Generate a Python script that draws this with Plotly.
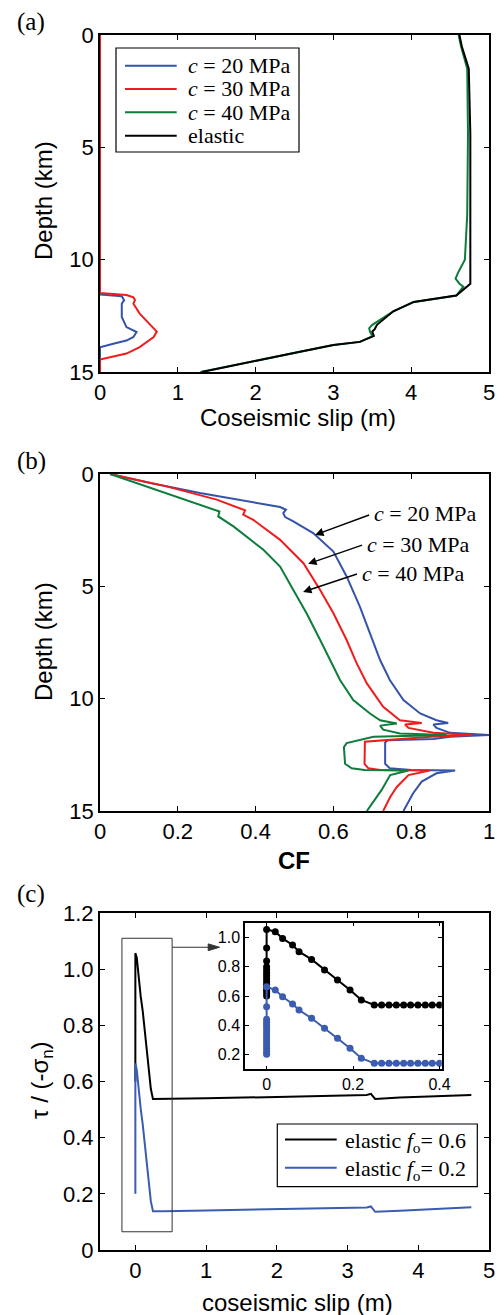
import plotly.graph_objects as go

# ---------------- Panel (a): coseismic slip vs depth ----------------
a_depth_c20 = [0, 11.55, 11.63, 11.8, 11.96, 12.55, 13.0, 13.22, 13.44, 13.6, 13.74, 13.9, 15]
a_slip_c20 = [0, 0, 0.28, 0.31, 0.28, 0.28, 0.34, 0.47, 0.43, 0.34, 0.17, 0, 0]

a_depth_c30 = [0, 11.48, 11.57, 11.68, 11.8, 11.96, 12.4, 12.85, 13.2, 13.44, 13.89, 14.18, 14.45, 15]
a_slip_c30 = [0, 0, 0.34, 0.43, 0.45, 0.43, 0.51, 0.64, 0.73, 0.69, 0.51, 0.34, 0, 0]

a_depth_c40 = [0, 0.5, 1.5, 4.4, 8.0, 10.0, 10.6, 10.84, 11.07, 11.2, 11.6, 11.88, 12.3, 12.9,
               13.05, 13.2, 13.4, 13.66, 13.8, 14.1, 14.4, 14.7, 15]
a_slip_c40 = [4.61, 4.64, 4.72, 4.73, 4.72, 4.69, 4.6, 4.57, 4.62, 4.67, 4.58, 4.04, 3.77, 3.5,
              3.46, 3.47, 3.5, 3.34, 3.0, 2.57, 2.14, 1.71, 1.29]

a_depth_el = [0, 0.5, 1.5, 4.4, 11.07, 11.6, 11.88, 12.3, 12.9, 13.1, 13.2, 13.4, 13.66, 13.8,
              14.1, 14.4, 14.7, 15]
a_slip_el = [4.62, 4.65, 4.74, 4.76, 4.76, 4.58, 4.03, 3.77, 3.56, 3.53, 3.50, 3.52, 3.34, 3.0,
             2.57, 2.14, 1.71, 1.31]

a_names = ["<i>c</i> = 20 MPa", "<i>c</i> = 30 MPa", "<i>c</i> = 40 MPa", "elastic"]

# ---------------- Panel (b): CF vs depth ----------------
b_depth_c20 = [0, 0.4, 0.85, 1.22, 1.47, 1.59, 1.74, 1.92, 2.11, 2.63, 3.45, 4.56, 5.9, 7.09,
               8.28, 9.17, 10.06, 10.66, 10.96, 11.08, 11.15, 11.3, 11.52, 11.62, 11.7, 11.8,
               11.85, 11.95, 12.9, 13.1, 13.18, 13.2, 13.32, 13.69, 14.21, 15]
b_cf_c20 = [0.026, 0.129, 0.257, 0.386, 0.463, 0.478, 0.471, 0.476, 0.497, 0.548, 0.6, 0.634,
            0.668, 0.694, 0.72, 0.745, 0.78, 0.823, 0.865, 0.895, 0.857, 0.865, 0.9, 1.0, 0.9,
            0.857, 0.74, 0.733, 0.733, 0.745, 0.8, 0.913, 0.865, 0.827, 0.805, 0.78]

b_depth_c30 = [0, 0.55, 1.14, 1.47, 1.62, 1.81, 2.04, 2.93, 3.97, 5.16, 6.2, 7.39, 8.43, 9.32,
               10.36, 10.96, 11.08, 11.15, 11.3, 11.52, 11.62, 11.7, 11.78, 11.92, 12.9, 13.1,
               13.17, 13.2, 13.4, 13.93, 14.38, 15]
b_cf_c30 = [0.026, 0.171, 0.3, 0.351, 0.373, 0.368, 0.394, 0.463, 0.523, 0.566, 0.6, 0.634,
            0.66, 0.686, 0.728, 0.771, 0.827, 0.784, 0.793, 0.857, 0.955, 0.85, 0.788, 0.681,
            0.68, 0.69, 0.72, 0.848, 0.793, 0.763, 0.746, 0.728]

b_depth_c40 = [0, 0.62, 1.26, 1.56, 1.67, 1.89, 2.33, 3.37, 4.12, 5.16, 6.2, 7.39, 8.28, 9.17,
               10.06, 10.66, 10.96, 11.11, 11.2, 11.38, 11.55, 11.62, 11.7, 11.98, 12.16, 12.9,
               13.1, 13.17, 13.2, 13.4, 14.06, 14.5, 15]
b_cf_c40 = [0.026, 0.129, 0.24, 0.291, 0.307, 0.304, 0.343, 0.42, 0.463, 0.497, 0.531, 0.566,
            0.591, 0.617, 0.651, 0.694, 0.72, 0.763, 0.72, 0.728, 0.771, 0.891, 0.703, 0.634,
            0.627, 0.63, 0.647, 0.68, 0.793, 0.746, 0.724, 0.707, 0.686]

b_labels = ["<i>c</i> = 20 MPa", "<i>c</i> = 30 MPa", "<i>c</i> = 40 MPa"]
b_label_cf = [0.699, 0.681, 0.668]
b_label_depth = [1.78, 3.12, 4.41]
b_arrow_head_cf = [0.553, 0.535, 0.522]
b_arrow_head_depth = [2.71, 4.0, 5.25]

# ---------------- Panel (c): tau/(-sigma_n) vs slip ----------------
c_slip_f06 = [0, 0, 0, 0, 0, 0, 0, 0, 0, 0, 0, 0, 0, 0,
              0.02, 0.037, 0.06, 0.075, 0.104, 0.134, 0.164, 0.193, 0.219, 0.249,
              0.266, 0.283, 0.3, 0.317, 0.333, 0.35, 0.367, 0.383, 0.4,
              1.0, 2.0, 2.8, 3.27, 3.33, 3.39, 3.74, 4.2, 4.75]
c_tau_f06 = [0.6, 0.62, 0.64, 0.66, 0.68, 0.7, 0.72, 0.74, 0.76, 0.78, 0.8, 0.84, 0.93, 1.057,
             1.041, 0.995, 0.95, 0.904, 0.851, 0.778, 0.71, 0.641, 0.573, 0.538,
             0.538, 0.538, 0.538, 0.538, 0.538, 0.538, 0.538, 0.538, 0.538,
             0.54, 0.545, 0.548, 0.552, 0.556, 0.538, 0.543, 0.548, 0.552]

c_slip_f02 = [0, 0, 0, 0, 0, 0, 0, 0, 0, 0, 0, 0, 0, 0, 0,
              0.02, 0.037, 0.06, 0.075, 0.104, 0.134, 0.164, 0.193, 0.219, 0.249,
              0.266, 0.283, 0.3, 0.317, 0.333, 0.35, 0.367, 0.383, 0.4,
              1.0, 2.0, 2.8, 3.27, 3.33, 3.39, 3.74, 4.2, 4.75]
c_tau_f02 = [0.2, 0.22, 0.24, 0.26, 0.28, 0.3, 0.32, 0.34, 0.36, 0.38, 0.4, 0.42, 0.44, 0.527, 0.664,
             0.641, 0.595, 0.545, 0.504, 0.447, 0.378, 0.31, 0.241, 0.173, 0.138,
             0.138, 0.138, 0.138, 0.138, 0.138, 0.138, 0.138, 0.138, 0.138,
             0.141, 0.145, 0.148, 0.151, 0.155, 0.136, 0.14, 0.146, 0.152]

c_names = ["elastic <i>f</i><sub>o</sub>= 0.6", "elastic <i>f</i><sub>o</sub>= 0.2"]
c_zoom_box = [-0.19, 0.52, 0.065, 1.11]   # x0, x1, y0, y1

# ---------------- styling ----------------
W, H = 504, 1315
BLUE = "#3553a8"
RED = "#f01c1c"
GREEN = "#0c7d3a"
BLACK = "#000000"
BLUE_C = "#3b5cb0"
SANS = "Liberation Sans, Arial, Helvetica, sans-serif"
SERIF = "Liberation Serif, Times New Roman, serif"


def py(p):
    return 1 - p / H


def px(p):
    return p / W


fig = go.Figure()

a_colors = [BLUE, RED, GREEN, BLACK]
# panel (a)
for xs, ys, nm, col in zip([a_slip_c20, a_slip_c30, a_slip_c40, a_slip_el],
                           [a_depth_c20, a_depth_c30, a_depth_c40, a_depth_el],
                           a_names, a_colors):
    fig.add_trace(go.Scatter(x=xs, y=ys, mode="lines", name=nm, showlegend=False,
                             line=dict(color=col, width=2), xaxis="x", yaxis="y"))

# panel (b)
for xs, ys, nm, col in [(b_cf_c20, b_depth_c20, b_labels[0], BLUE),
                        (b_cf_c30, b_depth_c30, b_labels[1], RED),
                        (b_cf_c40, b_depth_c40, b_labels[2], GREEN)]:
    fig.add_trace(go.Scatter(x=xs, y=ys, mode="lines", name=nm, showlegend=False,
                             line=dict(color=col, width=2), xaxis="x2", yaxis="y2"))

c_colors = [BLACK, BLUE_C]
# panel (c) main
fig.add_trace(go.Scatter(x=c_slip_f06, y=c_tau_f06, mode="lines", name=c_names[0], showlegend=False,
                         line=dict(color=c_colors[0], width=2), xaxis="x3", yaxis="y3"))
fig.add_trace(go.Scatter(x=c_slip_f02, y=c_tau_f02, mode="lines", name=c_names[1], showlegend=False,
                         line=dict(color=c_colors[1], width=2), xaxis="x3", yaxis="y3"))

# panel (c) inset
fig.add_trace(go.Scatter(x=c_slip_f06, y=c_tau_f06, mode="lines+markers", showlegend=False,
                         line=dict(color=BLACK, width=2), marker=dict(color=BLACK, size=7),
                         xaxis="x4", yaxis="y4"))
fig.add_trace(go.Scatter(x=c_slip_f02, y=c_tau_f02, mode="lines+markers", showlegend=False,
                         line=dict(color=BLUE_C, width=2), marker=dict(color=BLUE_C, size=7),
                         xaxis="x4", yaxis="y4"))

tickfont = dict(family=SANS, size=22, color="black")
base = dict(showline=True, linecolor="black", mirror="allticks", ticks="inside",
            ticklen=5, tickwidth=1, tickcolor="black", showgrid=False, zeroline=False,
            tickfont=tickfont, automargin=False, fixedrange=True)
small = dict(family=SANS, size=16, color="black")

xdom = [px(100), px(489)]
fig.update_layout(
    width=W, height=H, margin=dict(l=0, r=0, t=0, b=0),
    paper_bgcolor="white", plot_bgcolor="white", showlegend=False,
    xaxis=dict(base, domain=xdom, anchor="y", range=[0, 5], tickvals=[0, 1, 2, 3, 4, 5],
               linewidth=1.5, layer="below traces"),
    yaxis=dict(base, domain=[py(372), py(35)], anchor="x", range=[15, 0],
               tickvals=[0, 5, 10, 15], linewidth=1.5),
    xaxis2=dict(base, domain=xdom, anchor="y2", range=[0, 1],
                tickvals=[0, 0.2, 0.4, 0.6, 0.8, 1],
                ticktext=["0", "0.2", "0.4", "0.6", "0.8", "1"], linewidth=1.5),
    yaxis2=dict(base, domain=[py(811), py(474)], anchor="x2", range=[15, 0],
                tickvals=[0, 5, 10, 15], linewidth=1.5),
    xaxis3=dict(base, domain=xdom, anchor="y3", range=[-0.5, 5],
                tickvals=[0, 1, 2, 3, 4, 5], linewidth=2),
    yaxis3=dict(base, domain=[py(1250), py(913)], anchor="x3", range=[0, 1.2],
                tickvals=[0, 0.2, 0.4, 0.6, 0.8, 1.0, 1.2],
                ticktext=["0", "0.2", "0.4", "0.6", "0.8", "1.0", "1.2"], linewidth=2),
    xaxis4=dict(base, domain=[px(245), px(441.7)], anchor="y4", range=[-0.05, 0.405],
                tickvals=[0, 0.2, 0.4], ticktext=["0", "0.2", "0.4"], linewidth=1.5,
                ticklen=4, tickfont=small),
    yaxis4=dict(base, domain=[py(1069.3), py(922.7)], anchor="x4", range=[0.097, 1.103],
                tickvals=[0.2, 0.4, 0.6, 0.8, 1.0],
                ticktext=["0.2", "0.4", "0.6", "0.8", "1.0"], linewidth=1.5,
                ticklen=4, tickfont=small),
)

# panel labels
for lab, yc in [("(a)", 22), ("(b)", 461), ("(c)", 894)]:
    fig.add_annotation(text=lab, x=px(31), y=py(yc), xref="paper", yref="paper",
                       showarrow=False, xanchor="center", yanchor="middle",
                       font=dict(family=SERIF, size=25, color="black"))

# axis titles
titles = [
    ("Coseismic slip (m)", 297.5, 418, 0),
    ("Depth (km)", 43, 201, -90),
    ("Depth (km)", 43, 642, -90),
    ("<b>CF</b>", 294, 860, 0),
    ("coseismic slip (m)", 297.5, 1302, 0),
    ("τ / (-σ<sub>n</sub>)", 41, 1080, -90),
]
for t, xc, yc, ang in titles:
    fig.add_annotation(text=t, x=px(xc), y=py(yc), xref="paper", yref="paper",
                       showarrow=False, xanchor="center", yanchor="middle", textangle=ang,
                       font=dict(family=SANS, size=24, color="black"))

# legend for panel (a) (box, line samples, labels)
LEG_FONT = dict(family=SERIF, size=22, color="black")
fig.add_shape(type="rect", xref="paper", yref="paper", x0=px(116), x1=px(299),
              y0=py(152), y1=py(48), line=dict(color="black", width=1.2), fillcolor="white",
              layer="above")
for i, (nm, col) in enumerate(zip(a_names, a_colors)):
    yc = [65.7, 89.0, 112.3, 135.7][i]
    fig.add_shape(type="line", xref="paper", yref="paper", x0=px(125), x1=px(176.7),
                  y0=py(yc), y1=py(yc), line=dict(color=col, width=2), layer="above")
    fig.add_annotation(text=nm, x=px(186), y=py(yc), xref="paper", yref="paper",
                       showarrow=False, xanchor="left", yanchor="middle", font=LEG_FONT)

# legend for panel (c)
fig.add_shape(type="rect", xref="paper", yref="paper", x0=px(277.3), x1=px(477.3),
              y0=py(1186.7), y1=py(1124), line=dict(color="black", width=1.2), fillcolor="white",
              layer="above")
for i, (nm, col) in enumerate(zip(c_names, c_colors)):
    yc = [1139.5, 1167.7][i]
    fig.add_shape(type="line", xref="paper", yref="paper", x0=px(285), x1=px(336.7),
                  y0=py(yc), y1=py(yc), line=dict(color=col, width=2), layer="above")
    fig.add_annotation(text=nm, x=px(343), y=py(yc + 2), xref="paper", yref="paper",
                       showarrow=False, xanchor="left", yanchor="middle", font=LEG_FONT)

# panel (b) labels with arrows pointing to the curves
for i in range(3):
    fig.add_annotation(text=b_labels[i], x=b_arrow_head_cf[i], y=b_arrow_head_depth[i],
                       ax=b_label_cf[i], ay=b_label_depth[i],
                       xref="x2", yref="y2", axref="x2", ayref="y2",
                       xanchor="left", yanchor="middle",
                       showarrow=True, arrowhead=2, arrowsize=1.2, arrowwidth=1.4,
                       arrowcolor="black", startstandoff=3,
                       font=dict(family=SERIF, size=22, color="black"))

# panel (c) zoom box and arrow to inset
fig.add_shape(type="rect", xref="x3", yref="y3", x0=c_zoom_box[0], x1=c_zoom_box[1],
              y0=c_zoom_box[2], y1=c_zoom_box[3], line=dict(color="#333333", width=1))
fig.add_shape(type="line", xref="x3", yref="y3", x0=c_zoom_box[1], x1=1.08, y0=1.078, y1=1.078,
              line=dict(color="#333333", width=1.2))
fig.add_shape(type="path", xref="x3", yref="y3",
              path="M 1.19 1.078 L 1.03 1.090 L 1.03 1.066 Z",
              fillcolor="#333333", line=dict(color="#333333", width=1))

fig.write_html("out.html", config={"displayModeBar": False},
               post_script="document.body.style.margin='0px';document.body.style.overflow='hidden';")
